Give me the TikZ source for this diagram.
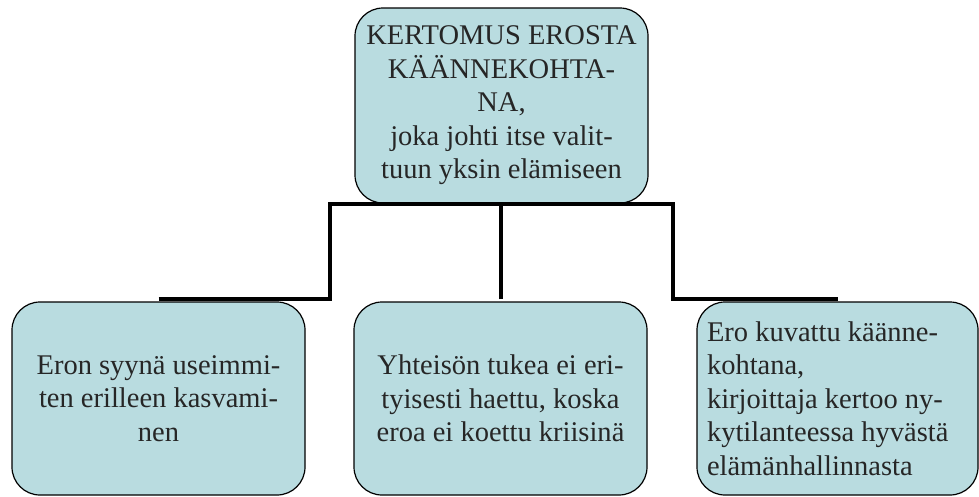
\documentclass[tikz,border=0pt]{standalone}
\usepackage{fontspec}
\setmainfont{Liberation Serif}
\usetikzlibrary{positioning}

\definecolor{laatikkovari}{RGB}{185,220,224}
\definecolor{tekstivari}{RGB}{38,38,38}

\begin{document}
\begin{tikzpicture}[x=1pt, y=-1pt,
    laatikko/.style={draw, line width=1.2pt, rounded corners=28pt, fill=laatikkovari,
        text=tekstivari, minimum width=293pt, minimum height=193pt, inner sep=0pt,
        font=\fontsize{28.5}{33.5}\selectfont, align=center},
    yhteys/.style={line width=4pt, black}]

    % Kuvan rajat
    \useasboundingbox (0,0) rectangle (979,496);

    % Ylin laatikko
    \node[laatikko, minimum height=195pt] (kertomus) at (501.5,105.5)
        {KERTOMUS EROSTA\\KÄÄNNEKOHTA-\\NA,\\joka johti itse valit-\\tuun yksin elämiseen};

    % Alemmat laatikot
    \node[laatikko] (syy) at (158.5,398.5)
        {Eron syynä useimmi-\\ten erilleen kasvami-\\nen};
    \node[laatikko] (tuki) at (500.5,398.5)
        {Yhteisön tukea ei eri-\\tyisesti haettu, koska\\eroa ei koettu kriisinä};
    \node[laatikko, minimum width=281pt, text width=261pt, inner xsep=10pt, align=flush left] (kuvaus) at (837.5,398.5)
        {Ero kuvattu käänne-\\kohtana,\\kirjoittaja kertoo ny-\\kytilanteessa hyvästä\\elämänhallinnasta};

    % Haarautumiskohdat
    \path (kertomus.south) ++(-171.5,0) coordinate (haaraV) ++(343,0) coordinate (haaraO);

    % Yhteysviivat
    \draw[yhteys] ([yshift=2pt]syy.north) -| (haaraV) -- (haaraO) |- ([yshift=2pt]kuvaus.north);
    \draw[yhteys] ([yshift=2pt]tuki.north) -- (tuki.north |- kertomus.south);

\end{tikzpicture}
\end{document}
